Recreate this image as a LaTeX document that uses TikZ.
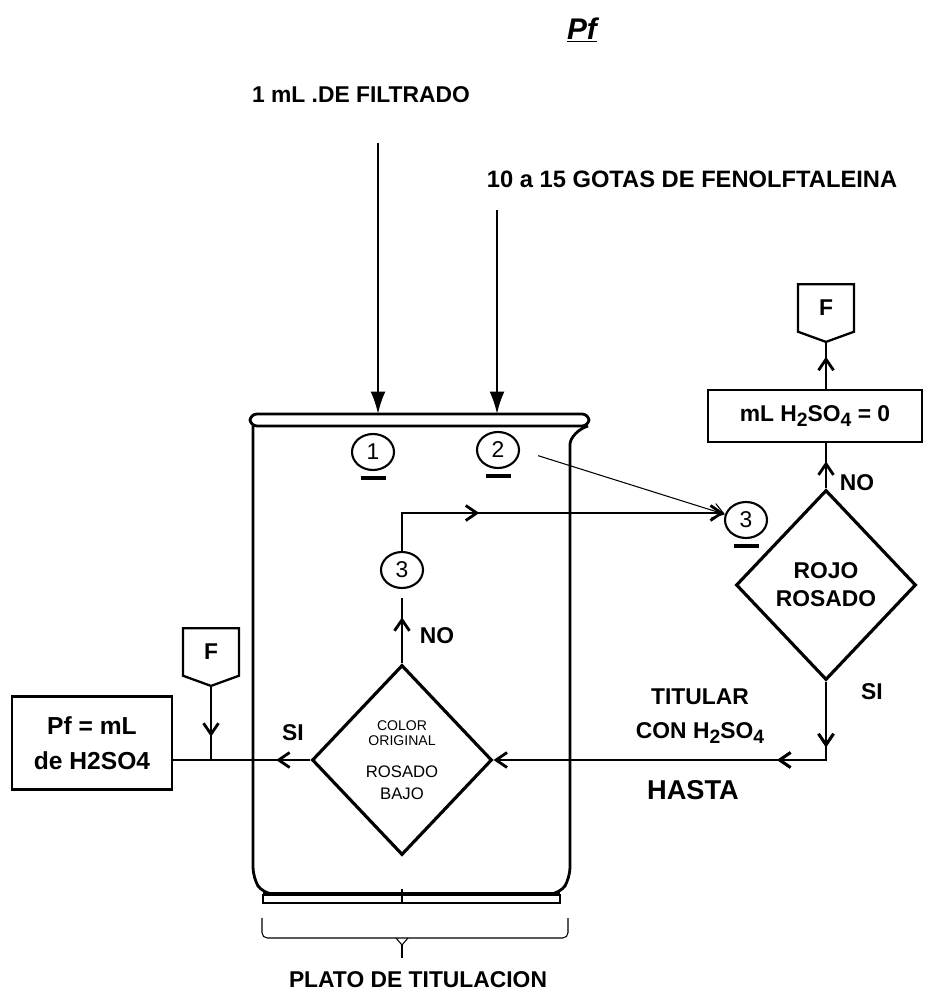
\documentclass[tikz,border=0pt]{standalone}
\usepackage{fontspec}
\setmainfont{Liberation Sans}
\usetikzlibrary{arrows.meta,positioning,shapes.geometric,shapes.symbols,decorations.markings}

\newcommand{\bajo}[1]{\raisebox{-0.45ex}{\fontsize{11}{11}\selectfont #1}}

\tikzset{
  flechamedio/.style={postaction={decorate},
    decoration={markings, mark=at position #1 with {\arrow{Straight Barb[length=2.2mm,width=3mm]}}}}
}

\begin{document}
\begin{tikzpicture}[
  x=0.02cm, y=-0.02cm,
  every node/.style={font=\bfseries\fontsize{13}{16}\selectfont},
  >={Straight Barb[length=2.2mm,width=3mm]},
  linea/.style={line width=1.6pt},
  fina/.style={line width=0.6pt},
  decision/.style={draw, diamond, line width=1.8pt, minimum width=3.6cm,
    minimum height=3.8cm, aspect=0.95, inner sep=0pt, align=center},
  caja/.style={draw, line width=1.6pt, inner sep=0pt, align=center},
  paso/.style={draw, ellipse, line width=1.2pt, minimum width=0.84cm,
    minimum height=0.72cm, inner sep=0pt, font=\fontsize{13}{13}\selectfont},
  subrayado/.style={label={[inner sep=0pt, yshift=-2.4pt]below:\rule{0.5cm}{2.4pt}}},
  conector/.style={draw, signal, signal to=south, signal pointer angle=140,
    line width=1.3pt, minimum width=1.12cm, minimum height=1.0cm, inner sep=0pt}
]
\useasboundingbox (0,0) rectangle (927,996);

% titulo
\node[font=\bfseries\itshape\fontsize{17}{20}\selectfont] (titulo) at (582,30) {\underline{Pf}};

% reactivos
\node (filtrado) at (361,95) {1 mL .DE FILTRADO};
\node[font=\bfseries\fontsize{13.5}{16}\selectfont] (fenol) at (692,179) {10 a 15 GOTAS DE FENOLFTALEINA};
\coordinate (caida1) at (378,143);
\coordinate (caida2) at (497,210);
\coordinate (borde1) at (378,414);
\coordinate (borde2) at (497,414);
\draw[line width=1.3pt,-{Latex[length=4.5mm,width=3mm]}] (caida1) -- (borde1);
\draw[line width=1.3pt,-{Latex[length=4.5mm,width=3mm]}] (caida2) -- (borde2);

% vaso (plato de titulacion)
\draw[linea, rounded corners=4pt] (250,414) rectangle (589,426);
\draw[linea, rounded corners=6pt] (253,426) -- (253,878) -- (263,894) -- (560,894)
  -- (570,878) -- (570,455) .. controls (570,438) and (578,429) .. (588,426);
\draw[line width=1.2pt] (263,895) rectangle (560,903);
\draw[line width=2.6pt] (263,894) -- (560,894);
\draw[linea] (402,889) -- (402,903);

% llave
\draw[fina, rounded corners=3pt] (262,918) -- (262,938) -- (568,938) -- (568,918);
\draw[fina] (396,938) -- (402,945) -- (408,938);
\draw[fina] (402,945) -- (402,958);
\node (plato) at (418,980) {PLATO DE TITULACION};

% pasos
\node[paso, subrayado] (p1) at (373,452) {1};
\node[paso, subrayado] (p2) at (498,450) {2};
\node[paso] (p3a) at (402,570) {3};
\node[paso, subrayado] (p3b) at (746,520) {3};

% decisiones
\node[decision] (rojo) at (826,585) {ROJO\\ROSADO};
\node[decision, font=\normalfont\fontsize{8}{8.5}\selectfont] (col) at (402,760)
  {COLOR\\ORIGINAL\\[9.5pt]
  {\fontsize{9.5}{9.5}\selectfont ROSADO}\\[4pt]
  {\fontsize{9.5}{9.5}\selectfont BAJO}};

% cajas
\node[caja, minimum width=4.28cm, minimum height=1.04cm] (cero) at (815,416)
  {mL H\bajo{2}SO\bajo{4} = 0};
\node[conector] (fin1) at (826,308) {F};
\node[caja, minimum width=3.2cm, minimum height=1.86cm,
  font=\bfseries\fontsize{14}{20}\selectfont] (pf) at (92,743) {Pf = mL\\de H2SO4};
\node[conector] (fin2) at (211,652) {F};

% etiquetas
\node (no1) at (857,483) {NO};
\node (si1) at (872,692) {SI};
\node (no2) at (437,636) {NO};
\node (si2) at (293,733) {SI};
\node (titular) at (700,697) {TITULAR};
\node (con) at (700,733) {CON H\bajo{2}SO\bajo{4}};
\node[font=\bfseries\fontsize{15.5}{18}\selectfont] (hasta) at (693,790) {HASTA};

% conexiones
\draw[linea, flechamedio=0.6] (rojo.north) -- (rojo.north |- cero.south);
\draw[linea, flechamedio=0.7] (fin1.south |- cero.north) -- (fin1.south);
\draw[linea, flechamedio=0.16, flechamedio=0.31, ->] (rojo.south) |- (col.east);
\draw[linea, flechamedio=0.62, shorten >=0.18cm] (col.north) -- (p3a.south);
\draw[linea, flechamedio=0.32, ->] (p3a.north) |- (p3b.west |- 400,513);
\draw[fina, ->, shorten <=0.38cm] (p2.east) -- (p3b.165);
\draw[linea, flechamedio=0.25] (col.west) -- (col.west -| pf.east);
\draw[linea, flechamedio=0.68] (fin2.south) -- (fin2.south |- col.west);

\end{tikzpicture}
\end{document}
